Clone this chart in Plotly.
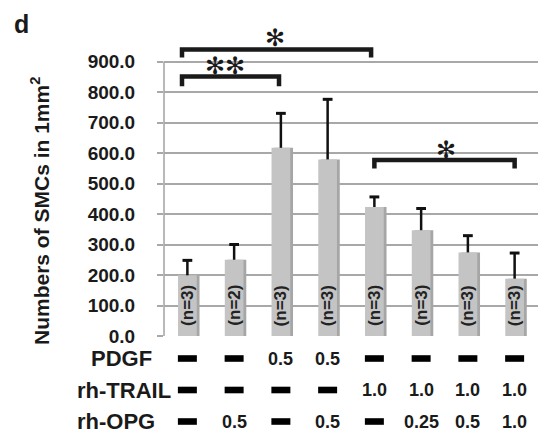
import plotly.graph_objects as go

# ---- data ----
groups = list(range(8))
smc_counts = [199, 250, 617, 579, 423, 347, 274, 188]
smc_err = [49, 50, 113, 197, 33, 71, 55, 84]
n_labels = ["(n=3)", "(n=2)", "(n=3)", "(n=3)", "(n=3)", "(n=3)", "(n=3)", "(n=3)"]
y_ticks = [0, 100, 200, 300, 400, 500, 600, 700, 800, 900]

row_names = ["PDGF", "rh-TRAIL", "rh-OPG"]
pdgf = ["-", "-", "0.5", "0.5", "-", "-", "-", "-"]
trail = ["-", "-", "-", "-", "1.0", "1.0", "1.0", "1.0"]
opg = ["-", "0.5", "-", "0.5", "-", "0.25", "0.5", "1.0"]

# significance comparisons: (left group, right group, label)
comparisons = [(0, 4, "*"), (0, 2, "**"), (4, 7, "*")]

FONT = "Liberation Sans, Arial, sans-serif"
INK = "#1a1a1a"
GRID = "#a8a8a8"

err_tops = [v + e for v, e in zip(smc_counts, smc_err)]

fig = go.Figure()
# soft shadow behind bars
fig.add_trace(go.Bar(x=groups, y=smc_counts, width=0.4, offset=-0.14,
                     marker=dict(color="#a6a6a6", line=dict(width=0)),
                     hoverinfo="skip", showlegend=False))
fig.add_trace(go.Bar(x=groups, y=smc_counts, width=0.4, offset=-0.2,
                     marker=dict(color="#c4c4c4", line=dict(width=0)),
                     error_y=dict(type="data", array=smc_err, symmetric=False,
                                  arrayminus=[0] * len(smc_err),
                                  color="#111111", thickness=2.5, width=0),
                     showlegend=False))
# caps only at the top of each error bar
fig.add_trace(go.Scatter(x=groups, y=err_tops, mode="markers",
                         marker=dict(symbol="line-ew", size=7, color="#111111",
                                     line=dict(color="#111111", width=3)),
                         hoverinfo="skip", showlegend=False, cliponaxis=False))

W, H = 538, 437
ml, mr, mt, mb = 164, 0, 31, 101
plot_h = H - mt - mb
plot_w = W - ml - mr


def py2paper(py):
    return (H - mb - py) / plot_h


def px2paper(px):
    return (px - ml) / plot_w


shapes = []
annotations = []

# y axis line only up to 900
shapes.append(dict(type="line", xref="paper", yref="y", x0=0, x1=0, y0=0, y1=900,
                   line=dict(color=GRID, width=1.6)))

# brackets
bracket_style = [
    dict(dl=-0.115, dr=-0.07, top=939, leg=26, ly=976, lx=-0.04),
    dict(dl=-0.115, dr=-0.04, top=851, leg=32, ly=885, lx=-0.12),
    dict(dl=0.0, dr=0.0, top=577, leg=28, ly=611, lx=0.03),
]
for (a, b, lab), st in zip(comparisons, bracket_style):
    x0 = a + st["dl"]
    x1 = b + st["dr"]
    yt = st["top"]
    yb = yt - st["leg"]
    shapes.append(dict(type="path", xref="x", yref="y",
                       path=f"M {x0},{yb} L {x0},{yt} L {x1},{yt} L {x1},{yb}",
                       line=dict(color=INK, width=4.5)))
    star = "✻" * len(lab)
    annotations.append(dict(x=(x0 + x1) / 2 + st["lx"], y=st["ly"], xref="x", yref="y",
                            text=star, showarrow=False, xanchor="center", yanchor="middle",
                            font=dict(family="DejaVu Sans", size=24, color=INK)))

# n labels inside bars
for g, t in zip(groups, n_labels):
    annotations.append(dict(x=g, y=100, xref="x", yref="y", text=f"<b>{t}</b>", textangle=-90,
                            showarrow=False, xanchor="center", yanchor="middle",
                            font=dict(family=FONT, size=17, color="#222222")))

# treatment table
row_y = [358.5, 390, 421.5]
rows = [pdgf, trail, opg]
for name, ry, vals in zip(row_names, row_y, rows):
    yp = py2paper(ry)
    if name == "PDGF":
        annotations.append(dict(x=px2paper(121), y=yp, xref="paper", yref="paper", text=f"<b>{name}</b>",
                                showarrow=False, xanchor="center", yanchor="middle",
                                font=dict(family=FONT, size=22, color=INK)))
    else:
        annotations.append(dict(x=px2paper(75), y=yp, xref="paper", yref="paper", text=f"<b>{name}</b>",
                                showarrow=False, xanchor="left", yanchor="middle",
                                font=dict(family=FONT, size=22, color=INK)))
    for g, v in zip(groups, vals):
        if v == "-":
            hh = 3.3 / plot_h
            shapes.append(dict(type="rect", xref="x", yref="paper", x0=g - 0.203, x1=g + 0.203,
                               y0=yp - hh, y1=yp + hh, fillcolor="#000000", line=dict(width=0)))
        else:
            annotations.append(dict(x=g, y=yp, xref="x", yref="paper", text=f"<b>{v}</b>",
                                    showarrow=False, xanchor="center", yanchor="middle",
                                    font=dict(family=FONT, size=18, color=INK)))

# y title
annotations.append(dict(x=px2paper(40), y=py2paper(211), xref="paper", yref="paper",
                        text="<b>Numbers of SMCs in 1mm<sup>2</sup></b>", textangle=-90,
                        showarrow=False, xanchor="center", yanchor="middle",
                        font=dict(family=FONT, size=21, color=INK)))
# panel label
annotations.append(dict(x=px2paper(12), y=py2paper(24), xref="paper", yref="paper",
                        text="<b>d</b>", showarrow=False, xanchor="left", yanchor="middle",
                        font=dict(family=FONT, size=25, color=INK)))

fig.update_layout(
    width=W, height=H,
    margin=dict(l=ml, r=mr, t=mt, b=mb, pad=0),
    paper_bgcolor="white", plot_bgcolor="white",
    barmode="overlay",
    shapes=shapes, annotations=annotations,
    xaxis=dict(range=[-0.5, 7.5], showticklabels=False, showgrid=False, zeroline=False,
               showline=False, ticks=""),
    yaxis=dict(range=[0, 1000], tickvals=y_ticks, tickformat=".1f",
               showgrid=True, gridcolor=GRID, gridwidth=1.6, zeroline=False, showline=False,
               ticks="outside", ticklen=6, tickcolor=GRID, tickwidth=1.6,
               ticklabelstandoff=18,
               tickfont=dict(family=FONT, size=19, color=INK, weight="bold")),
    font=dict(family=FONT),
)

fig.write_html("out.html", config={"displayModeBar": False},
               post_script="document.body.style.margin='0px';document.body.style.overflow='hidden';")
